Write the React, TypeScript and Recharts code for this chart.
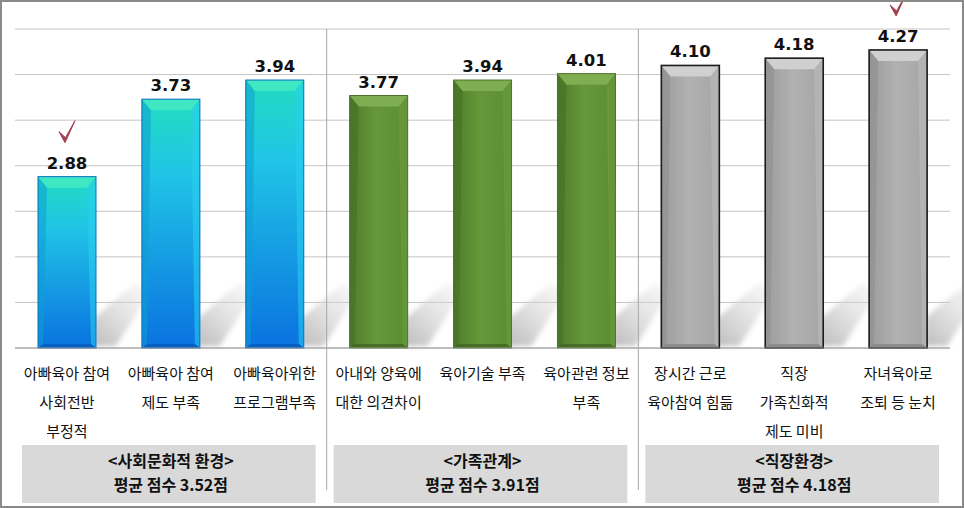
import React from "react";
import { BarChart, Bar, XAxis, YAxis, CartesianGrid, LabelList } from "recharts";

const categories = [
  "아빠육아 참여\n사회전반\n부정적",
  "아빠육아 참여\n제도 부족",
  "아빠육아위한\n프로그램부족",
  "아내와 양육에\n대한 의견차이",
  "육아기술 부족",
  "육아관련 정보\n부족",
  "장시간 근로\n육아참여 힘듦",
  "직장\n가족친화적\n제도 미비",
  "자녀육아로\n조퇴 등 눈치",
];
const scores = [2.88, 3.73, 3.94, 3.77, 3.94, 4.01, 4.1, 4.18, 4.27];
const groupNames = ["<사회문화적 환경>", "<가족관계>", "<직장환경>"];
const groupAverages = [3.52, 3.91, 4.18];
const highlighted = [0, 8];
const yTicks = [1, 1.5, 2, 2.5, 3, 3.5, 4, 4.5];

const data = categories.map((name, i) => ({ name, score: scores[i] }));

const W = 964;
const H = 508;
const M = { top: 29, left: 15, right: 14, bottom: 0 };
const AXIS_H = 160;
const PLOT_BOTTOM = H - AXIS_H;
const BAND = (W - M.left - M.right) / categories.length;
const KFONT = "'Noto Sans CJK KR', 'Noto Sans', sans-serif";

const palettes = [
  { fill: "url(#g0)", top: "#3fe8c2", left: "#0f9fd0", right: "#2ad0f0", bottom: "#0758b8", stroke: "#0a6ec0" },
  { fill: "url(#g1)", top: "#7fae52", left: "#456f24", right: "#6d9f3f", bottom: "#3c6020", stroke: "#4a7428" },
  { fill: "url(#g2)", top: "#d0d0d0", left: "#8e8e8e", right: "#bdbdbd", bottom: "#808080", stroke: "#1a1a1a" },
];

function BevelBar(props: any) {
  const { x, y, width: w, height: h, index } = props;
  const p = palettes[Math.floor(index / 3)];
  const base = y + h;
  const xr = x + w;
  const t = 11;
  const s = 5;
  return (
    <g>
      <polygon
        points={`${xr - 2},${base - 2} ${xr - 2},${base - 30} ${xr + 38},${base - 64} ${xr + 56},${base - 58} ${xr + 20},${base - 2}`}
        fill="url(#shadow)"
        filter="url(#blur)"
      />
      <rect x={x} y={y} width={w} height={h} fill={p.fill} />
      <polygon points={`${x},${y} ${xr},${y} ${xr - s - 4},${y + t} ${x + s + 4},${y + t}`} fill={p.top} />
      <polygon points={`${x},${y} ${x + s + 4},${y + t} ${x + s},${base - 4} ${x},${base}`} fill={p.left} opacity={0.55} />
      <polygon points={`${xr},${y} ${xr - s - 4},${y + t} ${xr - s},${base - 4} ${xr},${base}`} fill={p.right} opacity={0.55} />
      <polygon points={`${x},${base} ${x + s},${base - 4} ${xr - s},${base - 4} ${xr},${base}`} fill={p.bottom} opacity={0.7} />
      <rect x={x} y={y} width={w} height={h} fill="none" stroke={p.stroke} strokeWidth={index >= 6 ? 1.6 : 1} />
    </g>
  );
}

function ValueLabel(props: any) {
  const { x, y, width, value, index } = props;
  const cx = x + width / 2;
  const ty = y - 8;
  return (
    <g>
      <text
        x={cx}
        y={ty}
        textAnchor="middle"
        fontFamily="'DejaVu Sans', Verdana, sans-serif"
        fontWeight={700}
        fontSize={16.5}
        fill="#111"
      >
        {Number(value).toFixed(2)}
      </text>
      {highlighted.includes(index) && (
        <path
          d={`M${cx - 8},${ty - 37} L${cx - 2},${ty - 26} L${cx + 8},${ty - 48} L${cx - 1.5},${ty - 31} Z`}
          fill="#a33f50"
          stroke="#a33f50"
          strokeWidth={1}
          strokeLinejoin="round"
        />
      )}
    </g>
  );
}

function CategoryTick(props: any) {
  const { x, payload, index } = props;
  const lines = String(payload.value).split("\n");
  const g = Math.floor(index / 3);
  return (
    <g>
      {lines.map((line, i) => (
        <text
          key={i}
          x={x}
          y={PLOT_BOTTOM + 31 + i * 29}
          textAnchor="middle"
          fontFamily={KFONT}
          fontSize={15}
          fill="#111"
        >
          {line}
        </text>
      ))}
      {index % 3 === 0 && index > 0 && (
        <line x1={x - BAND / 2} x2={x - BAND / 2} y1={M.top} y2={490} stroke="#a6a6a6" strokeWidth={1} />
      )}
      {index % 3 === 1 && (
        <g>
          <rect x={x - (3 * BAND) / 2 + 7} y={445} width={3 * BAND - 18} height={58} fill="#d9d9d9" />
          <text x={x} y={467} textAnchor="middle" fontFamily={KFONT} fontWeight={700} fontSize={16} fill="#111">
            {groupNames[g]}
          </text>
          <text x={x} y={491} textAnchor="middle" fontFamily={KFONT} fontWeight={700} fontSize={16} fill="#111">
            {`평균 점수 ${groupAverages[g].toFixed(2)}점`}
          </text>
        </g>
      )}
    </g>
  );
}

export default function App() {
  return (
    <div style={{ position: "absolute", left: 0, top: 0, width: W, height: H, background: "#fff" }}>
      <BarChart width={W} height={H} data={data} margin={M}>
        <defs>
          <linearGradient id="g0" x1="0" y1="0" x2="0" y2="1">
            <stop offset="0%" stopColor="#22dcc0" />
            <stop offset="30%" stopColor="#20c4e6" />
            <stop offset="100%" stopColor="#0a72e0" />
          </linearGradient>
          <linearGradient id="g1" x1="0" y1="0" x2="1" y2="0">
            <stop offset="0%" stopColor="#4d7c2a" />
            <stop offset="45%" stopColor="#66983a" />
            <stop offset="100%" stopColor="#5a8c33" />
          </linearGradient>
          <linearGradient id="g2" x1="0" y1="0" x2="1" y2="0">
            <stop offset="0%" stopColor="#9c9c9c" />
            <stop offset="50%" stopColor="#b2b2b2" />
            <stop offset="100%" stopColor="#a4a4a4" />
          </linearGradient>
          <linearGradient id="shadow" x1="0" y1="1" x2="1" y2="0">
            <stop offset="0%" stopColor="#b8b8b8" stopOpacity={0.95} />
            <stop offset="100%" stopColor="#e4e4e4" stopOpacity={0.2} />
          </linearGradient>
          <filter id="blur" x="-30%" y="-30%" width="160%" height="160%">
            <feGaussianBlur stdDeviation="2.5" />
          </filter>
        </defs>
        <CartesianGrid vertical={false} stroke="#c4c4c4" />
        <YAxis hide domain={[1, 4.5]} ticks={yTicks} />
        <XAxis
          dataKey="name"
          height={AXIS_H}
          interval={0}
          tickLine={false}
          axisLine={{ stroke: "#999" }}
          tick={<CategoryTick />}
        />
        <Bar dataKey="score" barSize={58} shape={<BevelBar />} isAnimationActive={false}>
          <LabelList dataKey="score" content={<ValueLabel />} />
        </Bar>
      </BarChart>
      <div
        style={{
          position: "absolute",
          left: 0,
          top: 0,
          width: W,
          height: H,
          boxSizing: "border-box",
          border: "2px solid #8a8a8a",
          pointerEvents: "none",
        }}
      />
    </div>
  );
}
